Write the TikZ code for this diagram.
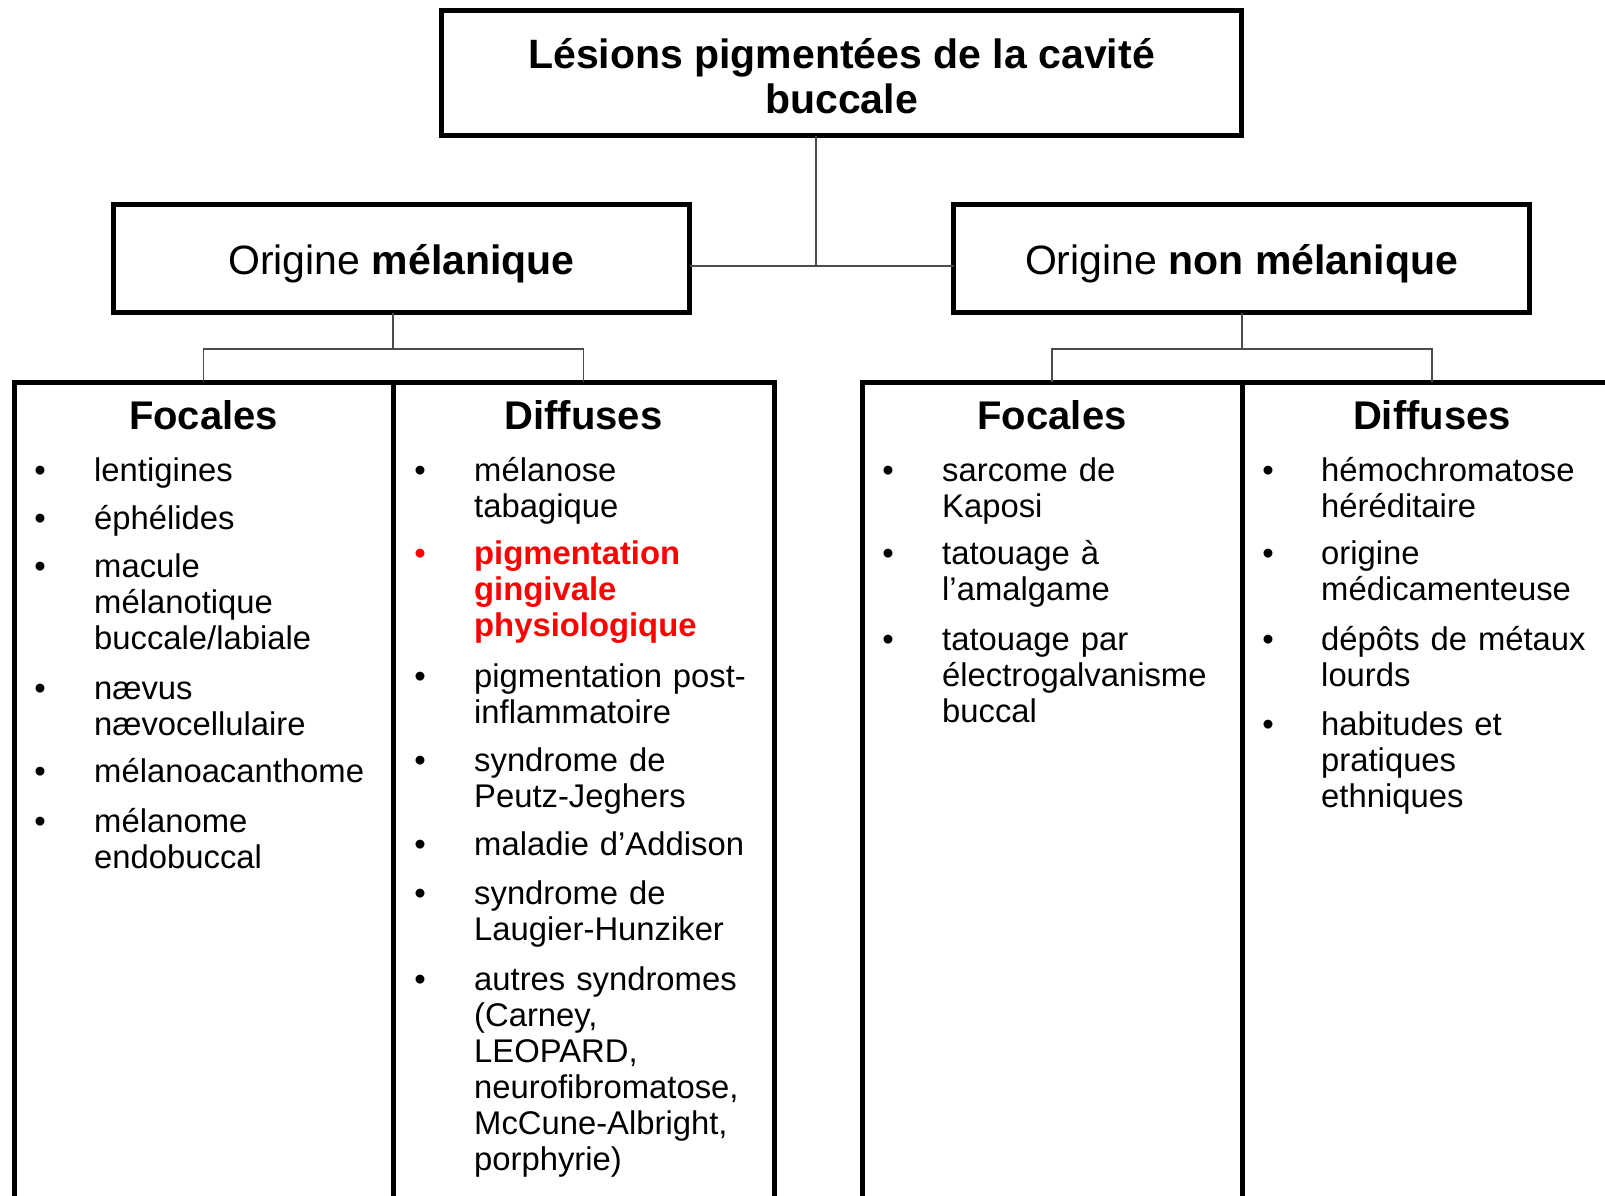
\documentclass[tikz,border=0pt]{standalone}
\usepackage{fontspec}
\setmainfont{Liberation Sans}
\newcommand\bodyfont{\fontsize{32.8}{36}\selectfont}
\newcommand\hdrfont{\fontsize{40}{45}\selectfont\bfseries}
\newcommand\orgfont{\fontsize{41}{45}\selectfont}
\newcommand\ttlfont{\fontsize{41}{45}\selectfont\bfseries}
\definecolor{hired}{RGB}{255,0,0}
\newcommand\litem[5]{%
  \node[bul] (#1b) at (#2,#4) {•};
  \node[itm] (#1) at (#3,#4) {#5};}
\newcommand\ritem[5]{%
  \node[bul,text=hired] (#1b) at (#2,#4) {•};
  \node[itm,text=hired,font=\bodyfont\bfseries] (#1) at (#3,#4) {#5};}
\begin{document}
\begin{tikzpicture}[x=1pt,y=-1pt,
  hbox/.style={draw=black, line width=5pt, inner sep=0pt, outer sep=0pt, fill=white},
  colbox/.style={draw=black, line width=5pt, inner sep=0pt, outer sep=0pt, minimum height=876pt, anchor=north west},
  conn/.style={draw=black!70, line width=1.5pt},
  hdr/.style={anchor=base, inner sep=0pt, font=\hdrfont},
  bul/.style={anchor=base, inner sep=0pt, font=\bodyfont},
  itm/.style={anchor=base west, inner sep=0pt, text width=320pt, align=left, font=\bodyfont}]
\clip (0,0) rectangle (1605,1195);
\fill[white] (0,0) rectangle (1605,1195);

% top level boxes
\node[hbox, minimum width=800pt, minimum height=125pt, align=center, font=\ttlfont] (top) at (841.5,73) {\rule{0pt}{36pt}Lésions pigmentées de la cavité\\buccale};
\node[hbox, minimum width=576pt, minimum height=108pt, font=\orgfont, text height=31pt, text depth=0pt] (mel) at (401.5,258.5) {Origine \textbf{mélanique}};
\node[hbox, minimum width=576pt, minimum height=108pt, font=\orgfont, text height=31pt, text depth=0pt] (nmel) at (1241.5,258.5) {Origine \textbf{non mélanique}};

% columns
\node[colbox, minimum width=379pt] (c1) at (14,382) {};
\node[colbox, minimum width=381pt] (c2) at (393,382) {};
\node[colbox, minimum width=380pt] (c3) at (862,382) {};
\node[colbox, minimum width=380pt] (c4) at (1242,382) {};

% connectors
\coordinate (j0) at (816,266);
\coordinate (j1) at (393,349);
\coordinate (j2) at (1242,349);
\draw[conn] (top.south -| j0) -- (j0);
\draw[conn] (mel.east |- j0) -- (nmel.west |- j0);
\draw[conn] (mel.south -| j1) -- (j1);
\draw[conn] (c1.north) -- (c1.north |- j1) -- (c2.north |- j1) -- (c2.north);
\draw[conn] (nmel.south -| j2) -- (j2);
\draw[conn] (c3.north) -- (c3.north |- j2) -- (c4.north |- j2) -- (c4.north);

% headers
\node[hdr] (h1) at (c1.north |- 0,429) {Focales};
\node[hdr] (h2) at (c2.north |- 0,429) {Diffuses};
\node[hdr] (h3) at (c3.north |- 0,429) {Focales};
\node[hdr] (h4) at (c4.north |- 0,429) {Diffuses};

% column 1
\litem{a1}{40}{94}{481}{lentigines}
\litem{a2}{40}{94}{529}{éphélides}
\litem{a3}{40}{94}{577}{macule\\mélanotique\\buccale/labiale}
\litem{a4}{40}{94}{699}{nævus\\nævocellulaire}
\litem{a5}{40}{94}{782}{mélanoacanthome}
\litem{a6}{40}{94}{832}{mélanome\\endobuccal}

% column 2
\litem{b1}{420}{474}{481}{mélanose\\tabagique}
\ritem{b2}{420}{474}{564}{pigmentation\\gingivale\\physiologique}
\litem{b3}{420}{474}{687}{pigmentation post-\\inflammatoire}
\litem{b4}{420}{474}{771}{syndrome de\\Peutz-Jeghers}
\litem{b5}{420}{474}{855}{maladie d’Addison}
\litem{b6}{420}{474}{904}{syndrome de\\Laugier-Hunziker}
\litem{b7}{420}{474}{990}{autres syndromes\\(Carney,\\LEOPARD,\\neurofibromatose,\\McCune-Albright,\\porphyrie)}

% column 3
\litem{d1}{888}{942}{481}{sarcome de\\Kaposi}
\litem{d2}{888}{942}{564}{tatouage à\\l’amalgame}
\litem{d3}{888}{942}{650}{tatouage par\\électrogalvanisme\\buccal}

% column 4
\litem{e1}{1268}{1321}{481}{hémochromatose\\héréditaire}
\litem{e2}{1268}{1321}{564}{origine\\médicamenteuse}
\litem{e3}{1268}{1321}{650}{dépôts de métaux\\lourds}
\litem{e4}{1268}{1321}{735}{habitudes et\\pratiques\\ethniques}
\end{tikzpicture}
\end{document}
